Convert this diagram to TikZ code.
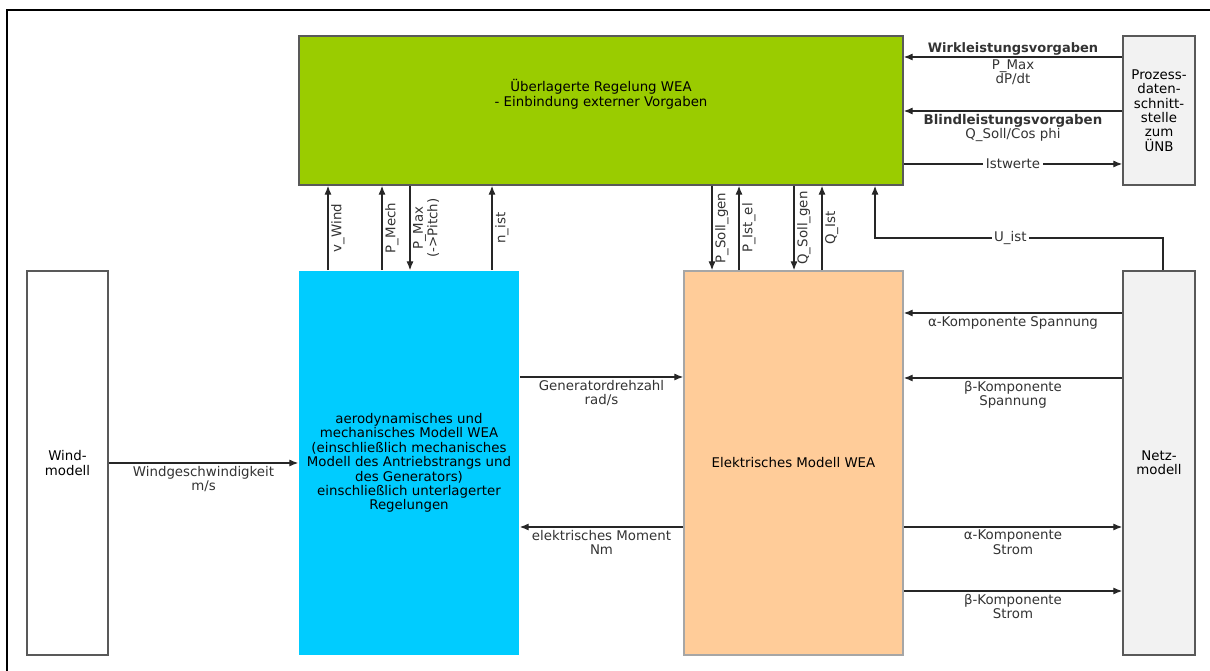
\documentclass[tikz,border=0pt]{standalone}
\usepackage{fontspec}
\setmainfont{DejaVu Sans}
\usepackage{xcolor}
\definecolor{weaGreen}{HTML}{9ACC00}
\definecolor{weaBlue}{HTML}{00CCFF}
\definecolor{weaOrange}{HTML}{FFCC99}
\definecolor{weaGray}{HTML}{F2F2F2}
\usepackage{tikz}
\usetikzlibrary{arrows.meta}

\begin{document}
\begin{tikzpicture}[x=0.02cm, y=-0.02cm, >={Latex[length=5pt,width=4pt]},
  block/.style={draw=black!65, line width=1pt, align=center, inner sep=1pt,
    font=\fontsize{7.6}{8.2}\selectfont},
  lbl/.style={font=\fontsize{7.6}{8.2}\selectfont, text=black!80, align=center, inner sep=1.5pt},
  head/.style={lbl, font=\fontsize{7.4}{8}\selectfont\bfseries},
  vlbl/.style={lbl, rotate=90, anchor=north},
  sig/.style={->, line width=0.6pt, black!85}]
  \useasboundingbox (0,0) rectangle (1210,671);
  \draw[line width=1.5pt] (7,671) -- (7,10) -- (1210,10);
  % blocks
  \node[block, fill=weaGreen, minimum width=12.08cm, minimum height=2.98cm] (ueber) at (601,110.5)
    {Überlagerte Regelung WEA\\ - Einbindung externer Vorgaben\\[12pt]};
  \node[block, fill=weaGray, minimum width=1.44cm, minimum height=2.98cm] (prozess) at (1159,110.5)
    {Prozess-\\daten-\\schnitt-\\stelle\\zum\\ÜNB};
  \node[block, fill=white, minimum width=1.62cm, minimum height=7.68cm] (wind) at (67.5,463) {Wind-\\modell};
  \node[block, fill=weaBlue, draw=none, minimum width=4.4cm, minimum height=7.68cm] (aero) at (409,463)
    {aerodynamisches und\\mechanisches Modell WEA\\(einschließlich mechanisches\\Modell des Antriebstrangs und\\des Generators)\\einschließlich unterlagerter\\Regelungen};
  \node[block, fill=weaOrange, draw=black!35, minimum width=4.38cm, minimum height=7.68cm] (elek) at (793.5,463)
    {Elektrisches Modell WEA};
  \node[block, fill=weaGray, minimum width=1.44cm, minimum height=7.68cm] (netz) at (1159,463) {Netz-\\modell};
  % process data interface
  \draw[sig] (prozess.west |- 0,57) -- node[head, above, inner sep=0.5pt]{Wirkleistungsvorgaben}
    node[lbl, below, inner sep=1pt]{P\_Max\\dP/dt} (ueber.east |- 0,57);
  \draw[sig] (prozess.west |- 0,111) -- node[lbl, below]{\textbf{Blindleistungsvorgaben}\\Q\_Soll/Cos phi} (ueber.east |- 0,111);
  \draw[sig] (ueber.east |- 0,164) -- node[lbl, fill=white]{Istwerte} (prozess.west |- 0,164);
  % mechanical model <-> control
  \draw[sig] (aero.north -| 328,0) -- node[vlbl]{v\_Wind} (ueber.south -| 328,0);
  \draw[sig] (aero.north -| 382,0) -- node[vlbl]{P\_Mech} (ueber.south -| 382,0);
  \draw[sig] (ueber.south -| 410,0) -- node[vlbl]{P\_Max\\(->Pitch)} (aero.north -| 410,0);
  \draw[sig] (aero.north -| 492,0) -- node[vlbl]{n\_ist} (ueber.south -| 492,0);
  % electrical model <-> control
  \draw[sig] (ueber.south -| 712,0) -- node[vlbl]{P\_Soll\_gen} (elek.north -| 712,0);
  \draw[sig] (elek.north -| 739,0) -- node[vlbl]{P\_Ist\_el} (ueber.south -| 739,0);
  \draw[sig] (ueber.south -| 794,0) -- node[vlbl]{Q\_Soll\_gen} (elek.north -| 794,0);
  \draw[sig] (elek.north -| 822,0) -- node[vlbl]{Q\_Ist} (ueber.south -| 822,0);
  \draw[sig] (netz.north -| 1163,0) -- (1163,238) -- node[lbl, fill=white, pos=0.53]{U\_ist} (875,238)
    -- (ueber.south -| 875,0);
  % horizontal signals
  \draw[sig] (wind.east |- 0,463) -- node[lbl, below]{Windgeschwindigkeit\\m/s} (aero.west |- 0,463);
  \draw[sig] (aero.east |- 0,377) -- node[lbl, below]{Generatordrehzahl\\rad/s} (elek.west |- 0,377);
  \draw[sig] (elek.west |- 0,527) -- node[lbl, below]{elektrisches Moment\\Nm} (aero.east |- 0,527);
  \draw[sig] (netz.west |- 0,313) -- node[lbl, below]{α-Komponente Spannung} (elek.east |- 0,313);
  \draw[sig] (netz.west |- 0,378) -- node[lbl, below]{β-Komponente\\Spannung} (elek.east |- 0,378);
  \draw[sig] (elek.east |- 0,527) -- node[lbl, below]{α-Komponente\\Strom} (netz.west |- 0,527);
  \draw[sig] (elek.east |- 0,591) -- node[lbl, below]{β-Komponente\\Strom} (netz.west |- 0,591);
\end{tikzpicture}
\end{document}
